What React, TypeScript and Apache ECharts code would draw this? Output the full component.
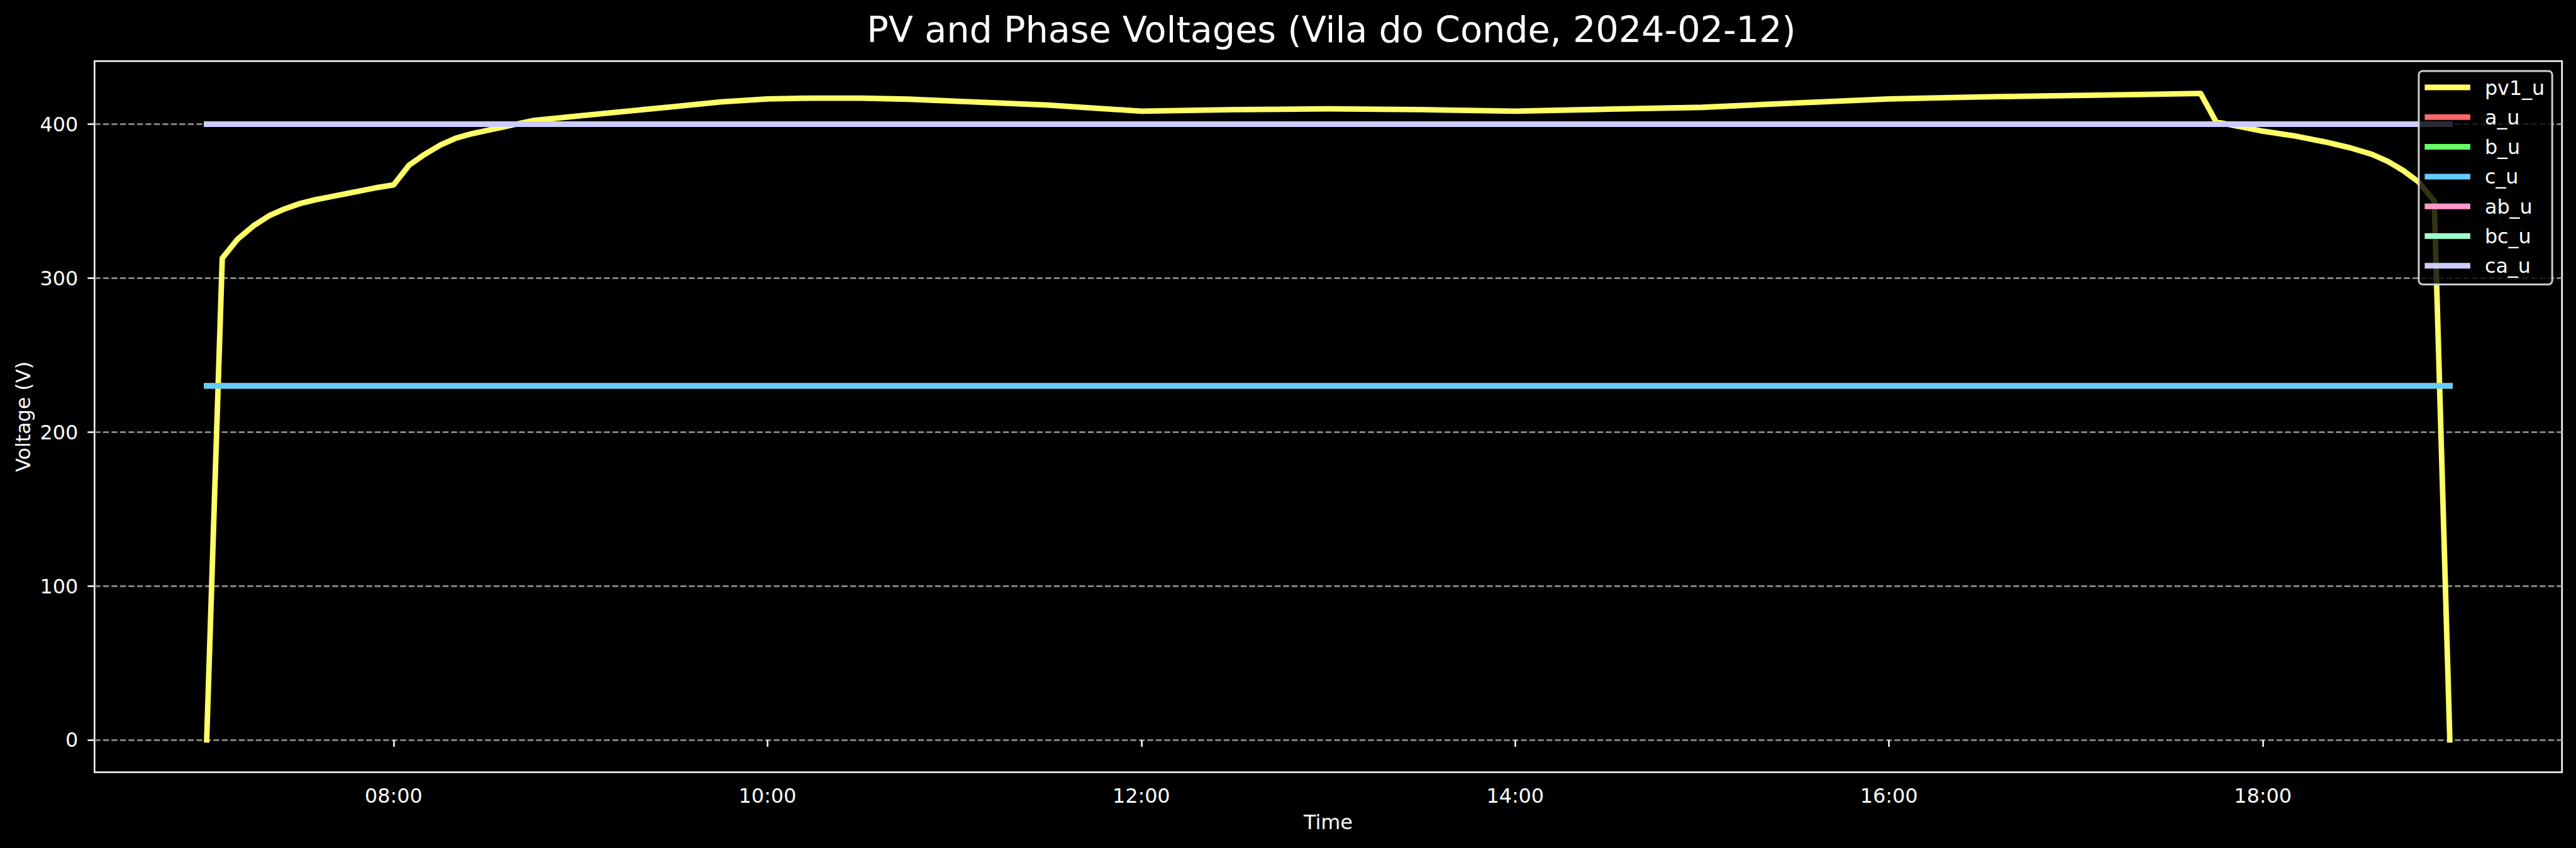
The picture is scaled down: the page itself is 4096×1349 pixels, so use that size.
import React, { useEffect, useRef } from "react";
import * as echarts from "echarts";

const chartTitle = "PV and Phase Voltages (Vila do Conde, 2024-02-12)";
const xAxisName = "Time";
const yAxisName = "Voltage (V)";

const xTickLabels = ["08:00", "10:00", "12:00", "14:00", "16:00", "18:00"];
const yTicks = [0, 100, 200, 300, 400];

const pvTimes = [
  "07:00", "07:05", "07:10", "07:15", "07:20", "07:25", "07:30", "07:35", "07:40", "07:45",
  "07:50", "07:55", "08:00", "08:05", "08:10", "08:15", "08:20", "08:25", "08:30", "08:35",
  "08:40", "08:45", "09:00", "09:15", "09:30", "09:45", "10:00", "10:15", "10:30", "10:45",
  "11:00", "11:30", "12:00", "12:30", "13:00", "13:30", "14:00", "14:30", "15:00", "15:30",
  "16:00", "16:30", "17:00", "17:20", "17:40", "17:45", "18:00", "18:10", "18:20", "18:28",
  "18:35", "18:40", "18:45", "18:50", "18:55", "19:00",
];
const pv1_u = [
  0, 313, 325.5, 334, 340.5, 345, 348.5, 351, 353, 355,
  357, 359, 360.6, 373.5, 380.5, 386.5, 391, 393.8, 396, 398.2,
  400.4, 402.5, 405.5, 408.5, 411.5, 414.5, 416.5, 417, 417, 416.3,
  415, 412.5, 408.5, 409.5, 410, 409.5, 408.5, 409.8, 411, 413.8,
  416.5, 417.8, 418.7, 419.3, 420, 401.5, 395.5, 392.5, 388.5, 384.7,
  380.5, 376, 370, 362.5, 350, 0,
];

const phaseTimes = ["07:00", "19:00"];
const a_u = [230, 230];
const b_u = [230, 230];
const c_u = [230, 230];
const ab_u = [400, 400];
const bc_u = [400, 400];
const ca_u = [400, 400];

const seriesNames = ["pv1_u", "a_u", "b_u", "c_u", "ab_u", "bc_u", "ca_u"];
const seriesColors = ["#ffff66", "#ff6666", "#66ff66", "#66ccff", "#ff99cc", "#99ffcc", "#ccccff"];

const toHours = (s: string) => {
  const [h, m] = s.split(":").map(Number);
  return h + m / 60;
};
const fmtHours = (v: number) => {
  const h = Math.floor(v + 1e-6);
  const m = Math.round((v - h) * 60);
  return String(h).padStart(2, "0") + ":" + String(m).padStart(2, "0");
};

const FONT = "DejaVu Sans";

export default function App() {
  const ref = useRef<HTMLDivElement>(null);
  useEffect(() => {
    document.body.style.margin = "0";
    const chart = echarts.init(ref.current!, null, { renderer: "svg" });
    const seriesData = [
      { times: pvTimes, vals: pv1_u },
      { times: phaseTimes, vals: a_u },
      { times: phaseTimes, vals: b_u },
      { times: phaseTimes, vals: c_u },
      { times: phaseTimes, vals: ab_u },
      { times: phaseTimes, vals: bc_u },
      { times: phaseTimes, vals: ca_u },
    ];
    const xTickVals = xTickLabels.map(toHours);
    chart.setOption({
      animation: false,
      backgroundColor: "#000000",
      textStyle: { fontFamily: FONT },
      title: {
        text: chartTitle,
        left: 2112,
        top: 13,
        textAlign: "center",
        textStyle: { color: "#ffffff", fontSize: 57.2, fontWeight: "normal", fontFamily: FONT },
      },
      grid: {
        left: 150.3,
        right: 22.3,
        top: 97.3,
        bottom: 120.6,
        show: true,
        borderColor: "#ffffff",
        borderWidth: 2.5,
        backgroundColor: "transparent",
        outerBoundsMode: "none",
        containLabel: false,
      },
      legend: {
        orient: "vertical",
        left: 3846,
        top: 113,
        padding: [8, 12, 11.6, 9.4],
        itemGap: 11.3,
        itemWidth: 72.5,
        itemHeight: 9,
        icon: "rect",
        backgroundColor: "rgba(0,0,0,0.8)",
        borderColor: "#cccccc",
        borderWidth: 3,
        borderRadius: 6,
        selectedMode: false,
        data: seriesNames,
        textStyle: {
          color: "#ffffff",
          fontSize: 31.8,
          fontFamily: FONT,
          lineHeight: 36,
          padding: [0, 0, 0, 18],
        },
      },
      xAxis: {
        type: "value",
        min: 6.4,
        max: 19.6,
        name: xAxisName,
        nameLocation: "middle",
        nameGap: 63,
        nameTextStyle: { color: "#ffffff", fontSize: 31.8, fontFamily: FONT },
        axisLine: { show: false },
        axisTick: {
          show: true,
          length: 11,
          customValues: xTickVals,
          lineStyle: { color: "#ffffff", width: 2.5 },
        },
        axisLabel: {
          customValues: xTickVals,
          color: "#ffffff",
          fontSize: 31.8,
          fontFamily: FONT,
          margin: 21,
          formatter: (v: number) => fmtHours(v),
        },
        splitLine: { show: false },
      },
      yAxis: {
        type: "value",
        min: -21,
        max: 441,
        name: yAxisName,
        nameLocation: "middle",
        nameRotate: 90,
        nameGap: 97,
        nameTextStyle: { color: "#ffffff", fontSize: 31.8, fontFamily: FONT },
        axisLine: { show: false },
        axisTick: {
          show: true,
          length: 11,
          customValues: yTicks,
          lineStyle: { color: "#ffffff", width: 2.5 },
        },
        axisLabel: {
          customValues: yTicks,
          color: "#ffffff",
          fontSize: 31.8,
          fontFamily: FONT,
          margin: 26,
        },
        splitLine: {
          show: true,
          lineStyle: { color: "#999999", width: 2.5, type: [9.4, 4.1] },
        },
      },
      series: seriesNames.map((name, i) => ({
        name,
        type: "line",
        showSymbol: false,
        symbol: "none",
        color: seriesColors[i],
        itemStyle: { color: seriesColors[i] },
        lineStyle: { color: seriesColors[i], width: 8.8, cap: "square", join: "round" },
        data: seriesData[i].times.map((t, j) => [toHours(t), seriesData[i].vals[j]]),
      })),
    });
    return () => chart.dispose();
  }, []);
  return (
    <div
      ref={ref}
      style={{ position: "fixed", left: 0, top: 0, width: 4096, height: 1349, background: "#000" }}
    />
  );
}
